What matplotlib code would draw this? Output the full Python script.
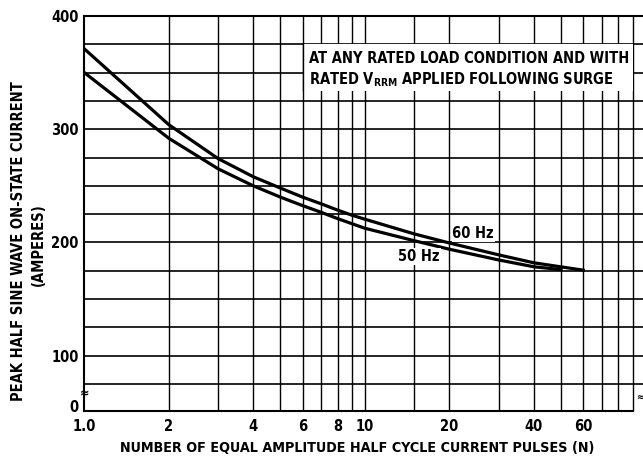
import numpy as np
import matplotlib
matplotlib.use("Agg")
import matplotlib.pyplot as plt
from matplotlib.patches import Rectangle

plt.rcParams['font.family'] = ['DejaVu Sans']
plt.rcParams['font.stretch'] = 'condensed'
plt.rcParams['font.weight'] = 'bold'
plt.rcParams['mathtext.fontset'] = 'custom'
plt.rcParams['mathtext.rm'] = 'DejaVu Sans:bold'

# Surge current vs. number of half-cycle pulses
n_60 = [1, 2, 3, 4, 5, 6, 7, 8, 9, 10, 15, 20, 30, 40, 60]
i_60 = [371, 304, 274, 258, 248, 240, 234, 228.5, 224, 220.5, 207.5, 199.5, 189, 182, 175.5]
n_50 = [1, 2, 3, 4, 5, 6, 7, 8, 9, 10, 15, 20, 30, 40, 50]
i_50 = [350, 292, 265, 250, 240, 232.5, 226.5, 221, 216.5, 212.5, 201.5, 194, 184.5, 178.5, 176]

x_ticks = [2, 4, 6, 8, 10, 20, 40, 60]
y_ticks = [100, 200, 300, 400]
x_grid = [2, 3, 4, 5, 6, 7, 8, 9, 10, 15, 20, 30, 40, 50, 60, 70, 80, 90]
y_grid = [75, 100, 125, 150, 175, 200, 225, 250, 275, 300, 325, 350, 375]

fig = plt.figure(figsize=(6.43, 4.63), dpi=100)
ax = fig.add_axes([0.1311, 0.1130, 0.8728, 0.8525])
ax.set_xscale('log')
ax.set_xlim(1, 100)
ax.set_ylim(51.4, 400)

for x in x_grid:
    ax.axvline(x, color='black', lw=1.0, zorder=1)
for y in y_grid:
    ax.axhline(y, color='black', lw=1.2, zorder=1)

# note box in the upper right
ax.add_patch(Rectangle((6, 334), 84, 41.5, facecolor='white', edgecolor='none', zorder=2))
ax.plot([6, 6], [335, 375], color='black', lw=1.0, zorder=3)
ax.text(6.3, 362, 'AT ANY RATED LOAD CONDITION AND WITH', fontsize=10.5, va='center', zorder=4)
ax.text(6.3, 344, r'RATED V$_{\mathrm{RRM}}$ APPLIED FOLLOWING SURGE', fontsize=10.5,
        va='center', zorder=4)

ax.plot(n_60, i_60, color='black', lw=2.3, zorder=5)
ax.plot(n_50, i_50, color='black', lw=2.3, zorder=5)
ax.text(24.3, 207.5, '60 Hz', fontsize=10.5, ha='center', va='center', zorder=6,
        bbox=dict(facecolor='white', edgecolor='none', pad=0.5))
ax.text(15.6, 187.6, '50 Hz', fontsize=10.5, ha='center', va='center', zorder=6,
        bbox=dict(facecolor='white', edgecolor='none', pad=0.5))

ax.set_xticks([1] + x_ticks)
ax.set_xticklabels(['1.0'] + [str(v) for v in x_ticks])
ax.xaxis.set_minor_locator(matplotlib.ticker.NullLocator())
ax.set_yticks([55.7] + y_ticks)
ax.set_yticklabels(['0'] + [str(v) for v in y_ticks])
ax.tick_params(axis='both', length=0, labelsize=10.5)
ax.tick_params(axis='x', pad=6)
ax.tick_params(axis='y', pad=4)

for s in ax.spines.values():
    s.set_linewidth(1.5)
ax.spines['bottom'].set_bounds(1, 90)

# axis break marks
ax.text(1.0, 66, '≈', fontsize=9, ha='center', va='center', zorder=6)
fig.text(0.995, 0.14, '≈', fontsize=7, ha='center', va='center')

fig.text(0.0295, 0.4784, 'PEAK HALF SINE WAVE ON-STATE CURRENT', rotation=90,
         fontsize=10.5, ha='center', va='center')
fig.text(0.059, 0.4719, '(AMPERES)', rotation=90, fontsize=10.5, ha='center', va='center')
fig.text(0.555, 0.0324, 'NUMBER OF EQUAL AMPLITUDE HALF CYCLE CURRENT PULSES (N)',
         fontsize=10.3, ha='center', va='center')

fig.savefig('out.png', dpi=100)
